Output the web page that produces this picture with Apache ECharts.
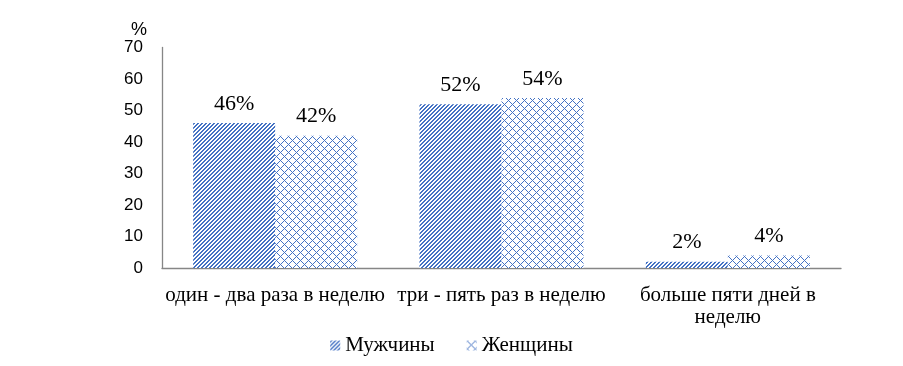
<!DOCTYPE html>
<html><head><meta charset="utf-8">
<script src="https://cdn.jsdelivr.net/npm/echarts@6/dist/echarts.min.js"></script>
<style>html,body{margin:0;padding:0;background:#fff}#c{width:903px;height:366px}</style>
</head><body><div id="c"></div>
<script>
const categories = ['один - два раза в неделю', 'три - пять раз в неделю', 'больше пяти дней в\nнеделю'];
const seriesNames = ['Мужчины', 'Женщины'];
const menValues = [46, 52, 2];
const womenValues = [42, 54, 4];

const BLUE = '#4472C4';
function makeTile(size, test) {
  const cv = document.createElement('canvas');
  cv.width = size; cv.height = size;
  const ctx = cv.getContext('2d');
  ctx.fillStyle = '#fff'; ctx.fillRect(0, 0, size, size);
  ctx.fillStyle = BLUE;
  for (let y = 0; y < size; y++) for (let x = 0; x < size; x++) if (test(x, y, size)) ctx.fillRect(x, y, 1, 1);
  return cv;
}
const stripe = makeTile(4, (x, y) => ((x + y) % 4) < 2);
const cross = makeTile(8, (x, y) => ((x + y) % 8) === 0 || (((x - y) % 8) + 8) % 8 === 0);

const chart = echarts.init(document.getElementById('c'));
const serif = 'Liberation Serif';
const labelCfg = { show: true, position: 'top', distance: 8, formatter: '{c}%', fontFamily: serif, fontSize: 22, color: '#000' };
chart.setOption({
  animation: false,
  grid: { left: 162, right: 62, top: 47.5, bottom: 98, containLabel: false },
  legend: {
    bottom: 5, left: 'center', itemWidth: 10, itemHeight: 10, itemGap: 32, icon: 'rect',
    textStyle: { fontFamily: serif, fontSize: 21, color: '#000' },
    data: seriesNames
  },
  xAxis: {
    type: 'category', data: categories,
    axisLine: { lineStyle: { color: '#868686', width: 1.3 } },
    axisTick: { show: false },
    axisLabel: { interval: 0, margin: 16, overflow: 'none', lineHeight: 22, fontFamily: serif, fontSize: 21, color: '#000' }
  },
  yAxis: {
    type: 'value', min: 0, max: 70, interval: 10,
    name: '%', nameLocation: 'end', nameGap: -3,
    nameTextStyle: { fontFamily: 'Liberation Sans', fontSize: 18, color: '#000', align: 'center', verticalAlign: 'bottom', padding: [0, 46, 0, 0] },
    axisLine: { show: true, lineStyle: { color: '#868686', width: 1.3 } },
    axisTick: { show: false },
    splitLine: { show: false },
    axisLabel: { margin: 19, fontFamily: 'Liberation Sans', fontSize: 17, color: '#000' }
  },
  series: [
    { name: seriesNames[0], type: 'bar', data: menValues, barWidth: 82, barGap: '0%',
      itemStyle: { color: { image: stripe, repeat: 'repeat' } }, label: labelCfg },
    { name: seriesNames[1], type: 'bar', data: womenValues, barWidth: 82, barGap: '0%',
      itemStyle: { color: { image: cross, repeat: 'repeat' } }, label: labelCfg }
  ]
});
</script></body></html>
